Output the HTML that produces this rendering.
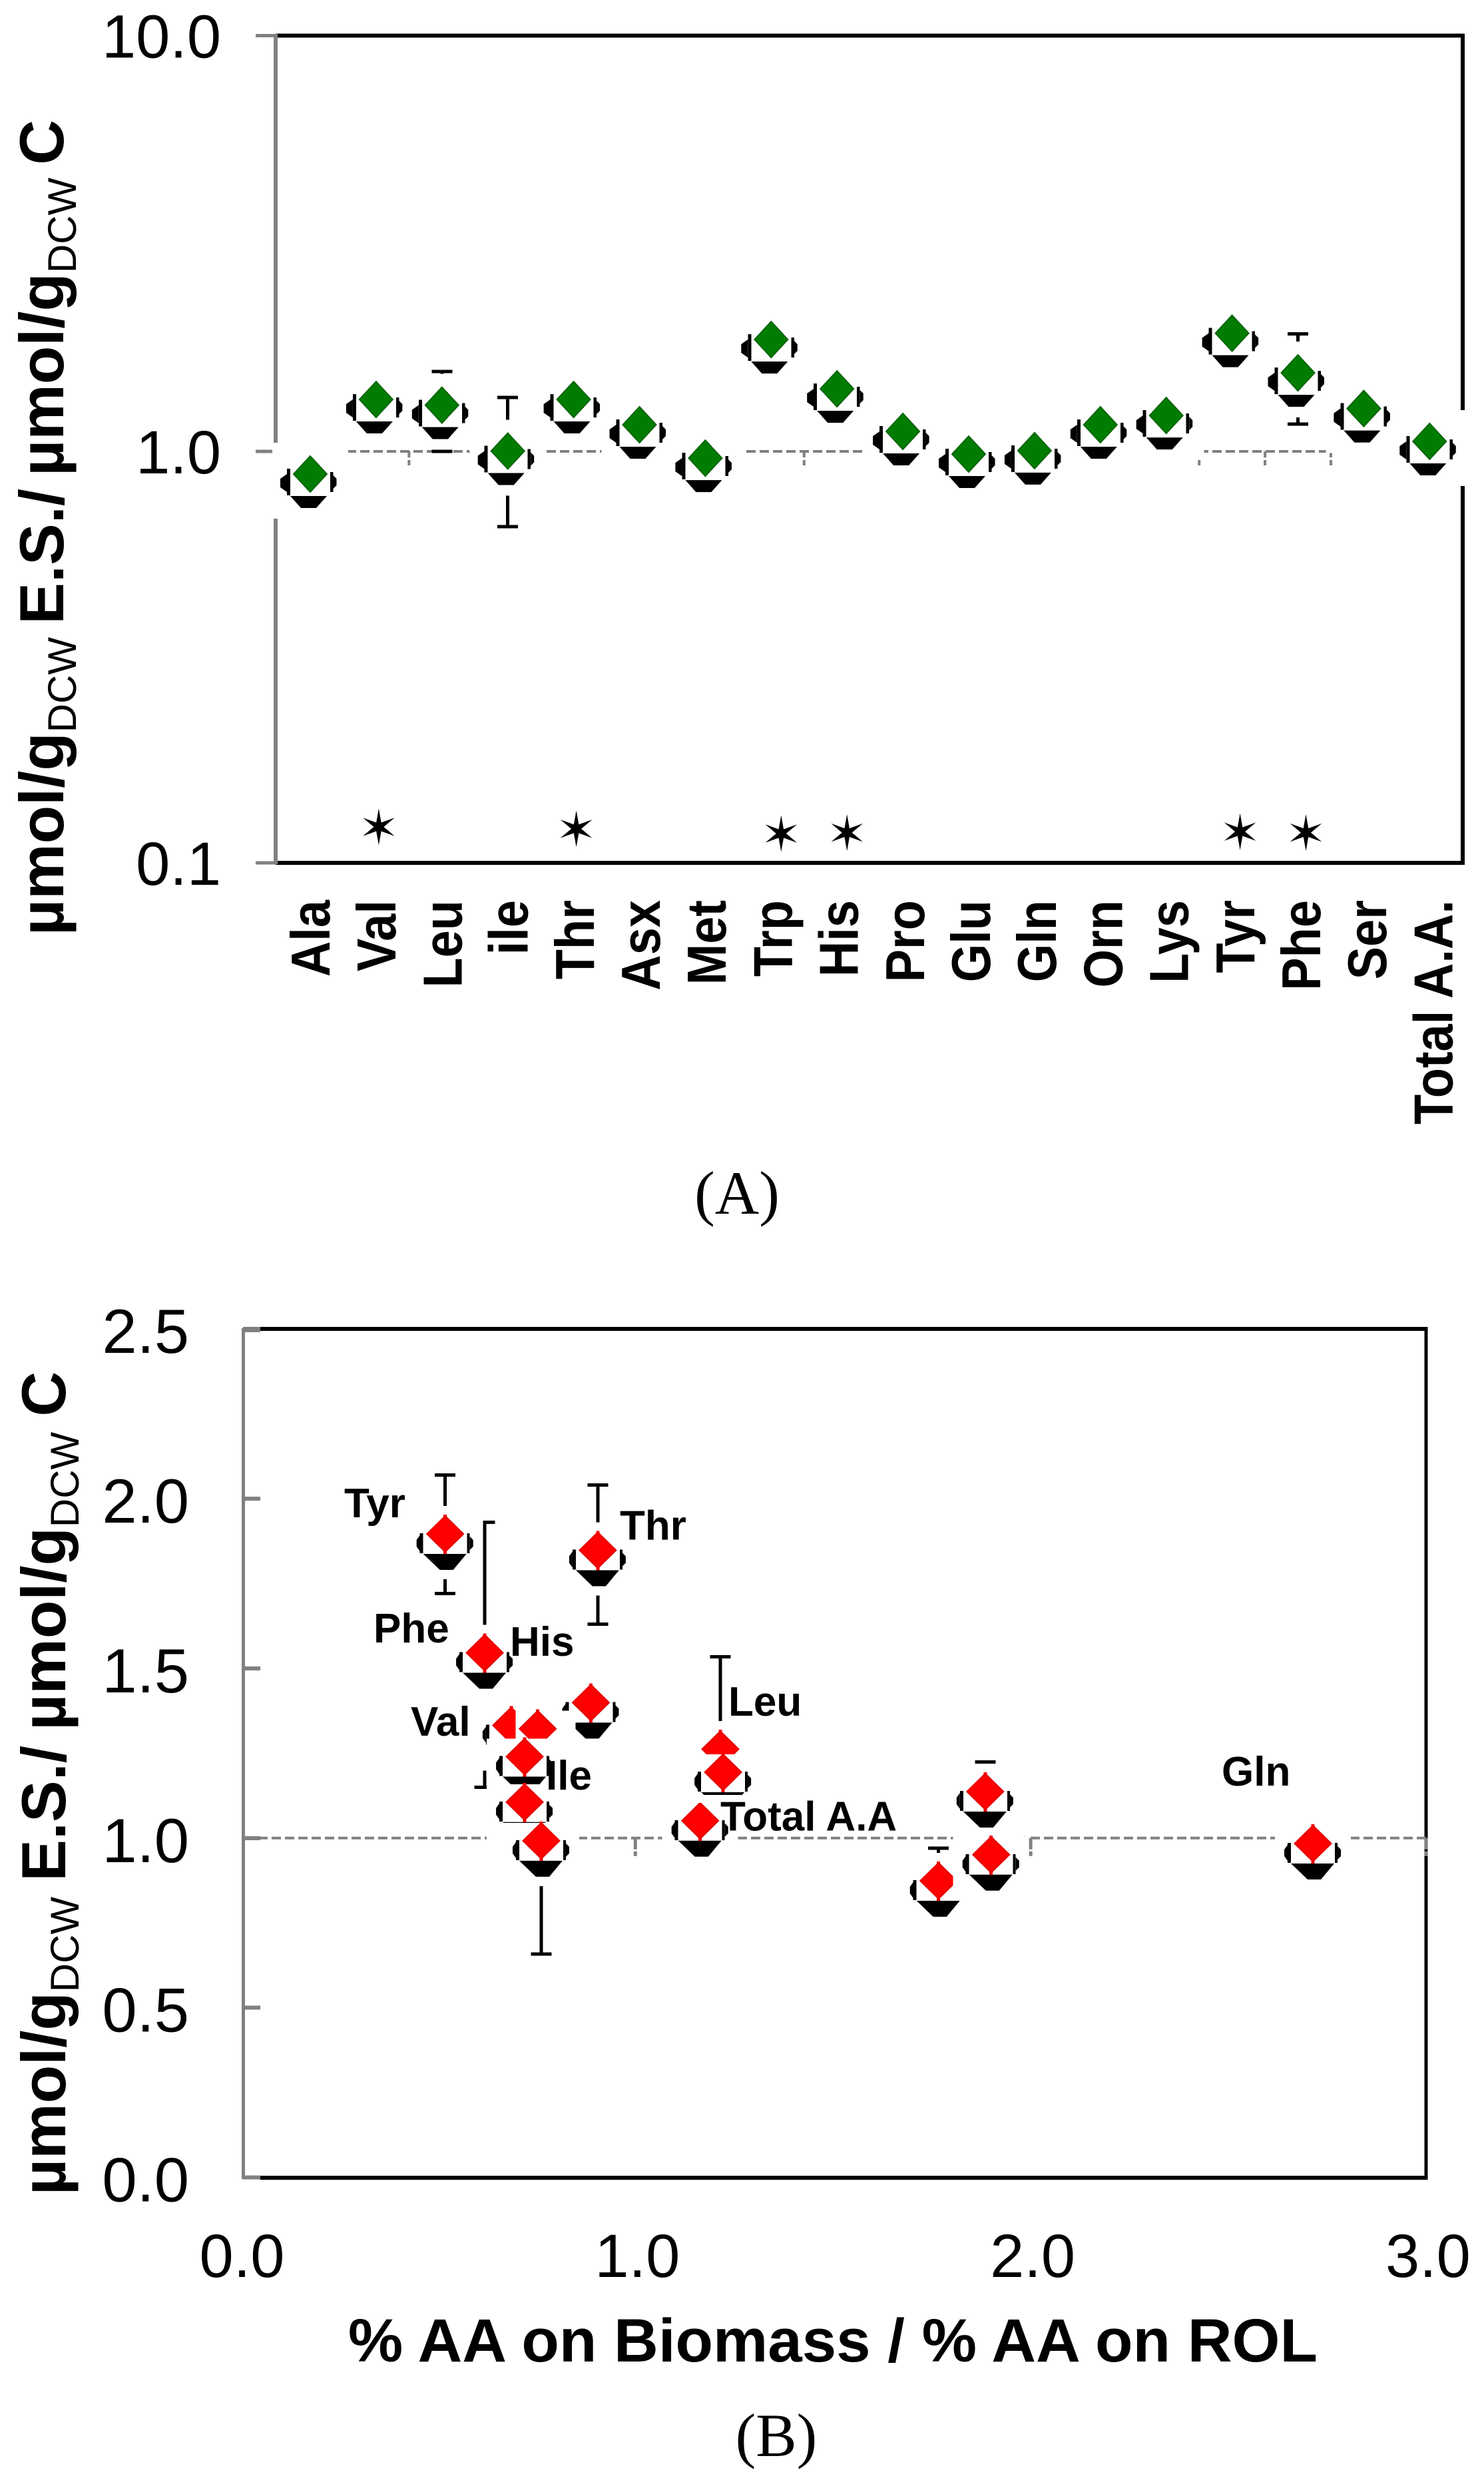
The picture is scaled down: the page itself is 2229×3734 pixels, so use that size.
<!DOCTYPE html>
<html lang="en">
<head>
<meta charset="utf-8">
<title>Amino acid ratio charts</title>
<style>
html,body{margin:0;padding:0;background:#fff}
svg{display:block}
text{font-family:"Liberation Sans",sans-serif;fill:#000}
</style>
</head>
<body>
<svg id="figure" xmlns="http://www.w3.org/2000/svg" width="2229" height="3734" viewBox="0 0 2229 3734">
  <rect x="0" y="0" width="2229" height="3734" fill="#fff"/>
  <g id="panelA"></g>
  <g id="panelB"></g>

  <text transform="translate(95,1405) rotate(-90)" font-size="94" font-weight="700" word-spacing="-7">µmol/g<tspan font-size="60" font-weight="400" dy="19">DCW</tspan><tspan dy="-19"> E.S./ µmol/g</tspan><tspan font-size="60" font-weight="400" dy="19">DCW</tspan><tspan dy="-19"> C</tspan></text>
  <text transform="translate(98,3297) rotate(-90)" font-size="94" font-weight="700" word-spacing="-3">µmol/g<tspan font-size="60" font-weight="400" dy="20">DCW</tspan><tspan dy="-20"> E.S./ µmol/g</tspan><tspan font-size="60" font-weight="400" dy="20">DCW</tspan><tspan dy="-20"> C</tspan></text>
  <text x="523" y="3547" font-size="92" font-weight="700" textLength="1456" lengthAdjust="spacingAndGlyphs">% AA on Biomass / % AA on ROL</text>
  <text x="1107" y="1823" font-size="92" text-anchor="middle" style="font-family:'Liberation Serif',serif">(A)</text>
  <text x="1166" y="3689" font-size="92" text-anchor="middle" style="font-family:'Liberation Serif',serif">(B)</text>
</svg>
<script>
/* ---------- Panel A data ---------- */
const categoriesA = ['Ala','Val','Leu','ile','Thr','Asx','Met','Trp','His','Pro','Glu','Gln','Orn','Lys','Tyr','Phe','Ser','Total A.A.'];
const ratiosA = [0.881,1.333,1.292,1.002,1.333,1.159,0.963,1.858,1.414,1.117,0.985,1.004,1.159,1.22,1.924,1.545,1.268,1.057];
const errHighA = [null,null,1.556,1.348,null,null,null,null,null,null,null,null,null,null,null,1.917,null,null];
const errLowA = [null,null,1.0,0.656,null,null,null,null,null,null,null,null,null,null,null,1.163,null,null];
const starCategoriesA = ['Val','Thr','Trp','His','Tyr','Phe'];
const starValuesA = [0.1223,0.121,0.1178,0.1184,0.1191,0.1184];
const yTicksA = [10,1,0.1];
const yTickLabelsA = ['10.0','1.0','0.1'];

/* ---------- Panel B data ---------- */
const xValuesB = [0.519,0.905,0.8875,0.619,1.767,1.885,1.90,2.714,0.686,0.753,0.72,0.72,0.762,1.215,1.222,1.164];
const yValuesB = [1.896,1.848,1.399,1.546,0.874,1.137,0.951,0.984,1.332,1.322,1.24,1.106,0.992,1.262,1.194,1.051];
const errHighB = [2.07,2.04,null,1.93,0.97,1.224,null,null,null,null,null,null,1.35,1.534,null,null];
const errLowB = [1.72,1.63,null,1.15,null,null,null,null,null,null,null,null,0.658,1.0,null,null];
const yTicksB = [0,0.5,1,1.5,2,2.5];
const yTickLabelsB = ['0.0','0.5','1.0','1.5','2.0','2.5'];
const xTicksB = [0,1,2,3];
const xTickLabelsB = ['0.0','1.0','2.0','3.0'];
const pointLabelsB = ['Tyr','Phe','Thr','His','Val','Ile','Leu','Total A.A','Gln'];
const labelXB = [517,561,931,766,617,820,1094,1082,1835];
const labelYB = [2279,2467,2312.6,2487,2607,2688,2577,2749.4,2682];
const referenceValue = 1;

/* ---------- Axis functions ---------- */
function xA(i){ return 466 + 98.9 * i; }
function yA(v){ const l = Math.log10(v); return 678 - l * (l >= 0 ? 624.5 : 618); }
function xB(v){ return 360.5 + 593.8 * v; }
function yB(v){ return 3270.6 - 509.8 * v; }

const NS = 'http://www.w3.org/2000/svg';
const GRAY = '#808080';
function make(tag, attrs, parent){
  const n = document.createElementNS(NS, tag);
  for (const k in attrs) n.setAttribute(k, attrs[k]);
  parent.appendChild(n);
  return n;
}
function box(parent, x1, y1, x2, y2, fill){
  return make('rect', {x:x1, y:y1, width:x2-x1, height:y2-y1, fill:fill, 'shape-rendering':'crispEdges'}, parent);
}
function pts(cx, cy, list){
  return list.map(function(p){ return (cx+p[0]) + ',' + (cy+p[1]); }).join(' ');
}
const shapeA = {fill:'#007d00', edge:'#0b650b', hw:25, hh:27, top:-47, bottom:67,
  wedge:[33,51,-30,25,-14,9], leftCol:[-35,-30,-8,32], leftBulge:[-45,7,20], rightCol:[30,34.5,-3,27], rightBulge:[39.5,7,17], spike:false};
const shapeB = {fill:'#ff0000', edge:'#e40000', hw:27.5, hh:27, top:-27, bottom:68,
  wedge:[30,54,-33,32,-8,12], leftCol:[-38,-33,-1,29], leftBulge:[-43,9,19], rightCol:[33,37,-1,29], rightBulge:[42,9,19], spike:true};

function drawMarker(parent, cx, cy, s, narrow, noSides){
  const halfLeft = narrow ? 33 : 57;
  box(parent, cx-halfLeft, cy+s.top, cx+57, cy+s.bottom, '#fff');
  const w = s.wedge;
  make('polygon', {points:pts(cx, cy, [[w[2],w[0]],[w[3],w[0]],[w[5],w[1]],[w[4],w[1]]]), fill:'#000'}, parent);
  if (!noSides) {
    box(parent, cx+s.leftCol[0], cy+s.leftCol[2], cx+s.leftCol[1], cy+s.leftCol[3], '#000');
    make('polygon', {points:pts(cx, cy, [[s.leftCol[0],s.leftBulge[1]-7],[s.leftBulge[0],s.leftBulge[1]],[s.leftBulge[0],s.leftBulge[2]],[s.leftCol[0],s.leftBulge[2]+7]]), fill:'#000'}, parent);
    box(parent, cx+s.rightCol[0], cy+s.rightCol[2], cx+s.rightCol[1], cy+s.rightCol[3], '#000');
    make('polygon', {points:pts(cx, cy, [[s.rightCol[1],s.rightBulge[1]-5],[s.rightBulge[0],s.rightBulge[1]],[s.rightBulge[0],s.rightBulge[2]],[s.rightCol[1],s.rightBulge[2]+5]]), fill:'#000'}, parent);
  }
  if (s.spike) box(parent, cx-2.5, cy-29, cx+2.5, cy+30, s.fill);
  make('polygon', {points:pts(cx, cy, [[0,-s.hh],[s.hw,0],[0,s.hh],[-s.hw,0]]), fill:s.fill, stroke:s.edge, 'stroke-width':2}, parent);
}
function drawError(parent, cx, cy, yHigh, yLow, s, gapTop){
  if (yHigh !== null) {
    box(parent, cx-15.5, yHigh-2.5, cx+15.5, yHigh+2.5, '#000');
    if (yHigh < cy+gapTop) box(parent, cx-2.5, yHigh, cx+2.5, cy+gapTop, '#000');
  }
  if (yLow !== null) {
    box(parent, cx-15.5, yLow-2.5, cx+15.5, yLow+2.5, '#000');
    if (yLow > cy+s.bottom) box(parent, cx-2.5, cy+s.bottom, cx+2.5, yLow, '#000');
  }
}
function starPoints(cx, cy){
  const out = [];
  for (let k = 0; k < 12; k++) {
    const r = k % 2 === 0 ? 27.5 : 7.5;
    const a = Math.PI * k / 6;
    out.push((cx + r*Math.sin(a)) + ',' + (cy - r*Math.cos(a)));
  }
  return out.join(' ');
}
function dashedLine(parent, x1, x2, y){
  return make('line', {x1:x1, x2:x2, y1:y, y2:y, stroke:GRAY, 'stroke-width':4, 'stroke-dasharray':'14 6'}, parent);
}

/* ---------- Panel A ---------- */
const A = document.getElementById('panelA');
let el;

el = make('g', {}, A);


box(el, 414, 50.5, 2200, 56.5, '#000');
box(el, 414, 1293, 2200, 1299, '#000');
box(el, 2194, 50.5, 2200, 1299, '#000');
box(el, 411, 51, 417, 1298, GRAY);
box(el, 384, 51, 414, 56, GRAY);
box(el, 384, 1293.5, 414, 1298.5, GRAY);
box(el, 384, 675.5, 414, 680.5, GRAY);

yTicksA.forEach(function(v, i){
  const label = make('text', {x:332, y:yA(v)+33, 'font-size':92, 'text-anchor':'end'}, A);
  label.textContent = yTickLabelsA[i];
  
  
});

el = dashedLine(A, 421, 2197, yA(referenceValue));



categoriesA.forEach(function(c, i){
  const tick = make('line', {x1:xA(i)+49.5, x2:xA(i)+49.5, y1:yA(referenceValue), y2:yA(referenceValue)+21, stroke:GRAY, 'stroke-width':4, 'stroke-dasharray':'9 4'}, A);
  
  
  const label = make('text', {transform:'translate(' + (495 + 99.2*i) + ',1352) rotate(-90) scale(1,1.12)', 'font-size':74, 'font-weight':700, 'text-anchor':'end'}, A);
  label.textContent = c;
  
  
});

categoriesA.forEach(function(c, i){
  if (errHighA[i] === null && errLowA[i] === null) return;
  const g = make('g', {}, A);
  
  
  drawError(g, xA(i), yA(ratiosA[i]), errHighA[i]===null?null:yA(errHighA[i]), errLowA[i]===null?null:yA(errLowA[i]), shapeA, -47);
});

categoriesA.forEach(function(c, i){
  const g = make('g', {}, A);
  
  
  drawMarker(g, xA(i), yA(ratiosA[i]), shapeA, false, false);
});

starCategoriesA.forEach(function(c, i){
  const s = make('polygon', {points:starPoints(xA(categoriesA.indexOf(c))+ (i<2?4:(i<4?15:12)), yA(starValuesA[i])), fill:'#000'}, A);
  
  
});

/* ---------- Panel B ---------- */
const B = document.getElementById('panelB');

el = make('g', {}, B);


box(el, 391, 1993, 2144.5, 1999, '#000');
box(el, 391, 3268, 2144.5, 3274, '#000');
box(el, 2139.5, 1993, 2144.5, 3274, '#000');
box(el, 363, 1995, 368, 3273, GRAY);
box(el, 363, 1995, 391, 2001, GRAY);

yTicksB.forEach(function(v, i){
  const tick = make('rect', {x:365, y:yB(v)-3, width:26, height:6, fill:GRAY, 'shape-rendering':'crispEdges'}, B);
  
  
  const label = make('text', {x:284, y:yB(v)+36, 'font-size':94, 'text-anchor':'end'}, B);
  label.textContent = yTickLabelsB[i];
  
  
});

xTicksB.forEach(function(v, i){
  const label = make('text', {x:xB(v)+3, y:3420, 'font-size':92, 'text-anchor':'middle'}, B);
  label.textContent = xTickLabelsB[i];
  
  
  if (v === 0) return;
  const tick = make('line', {x1:xB(v), x2:xB(v), y1:yB(referenceValue), y2:yB(referenceValue)+27, stroke:GRAY, 'stroke-width':5, 'stroke-dasharray':'17 3'}, B);
  
  
});

el = dashedLine(B, 368, 2142, yB(referenceValue));



xValuesB.forEach(function(x, i){
  if (errHighB[i] === null && errLowB[i] === null) return;
  const g = make('g', {}, B);
  
  
  drawError(g, xB(x), yB(yValuesB[i]), errHighB[i]===null?null:yB(errHighB[i]), errLowB[i]===null?null:yB(errLowB[i]), shapeB, -42);
});

el = box(B, 600, 2545, 735, 2610, '#fff');



const narrowIndexB = 9;
const hiddenSidesB = [9, 13];
xValuesB.forEach(function(x, i){
  const g = make('g', {}, B);
  
  
  drawMarker(g, xB(x), yB(yValuesB[i]), shapeB, i === narrowIndexB, hiddenSidesB.indexOf(i) >= 0);
});

el = box(B, 1040, 2696, 1120, 2708, '#fff');



pointLabelsB.forEach(function(t, i){
  const label = make('text', {x:labelXB[i], y:labelYB[i], 'font-size':62, 'font-weight':700}, B);
  label.textContent = t;
  
  
});
</script>
</body>
</html>
